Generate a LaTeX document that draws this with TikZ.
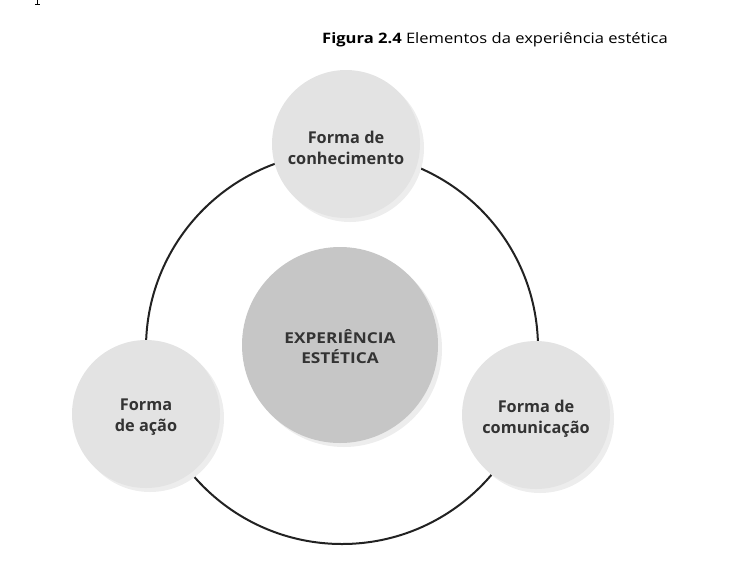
\documentclass[tikz,border=0pt]{standalone}
\usepackage{fontspec}
\setmainfont[FakeStretch=1.15]{Open Sans}
\newfontfamily\plainsans{Open Sans}
\begin{document}
\begin{tikzpicture}[x=1pt,y=-1pt,
  satellite/.style={circle,fill=sat,minimum size=148pt,inner sep=0pt},
  centre/.style={circle,fill=cen,minimum size=196pt,inner sep=0pt},
  sattext/.style={align=center,inner sep=0pt,font=\plainsans\fontsize{16.3}{21}\selectfont\bfseries,text=txt},
  midtextstyle/.style={align=center,inner sep=0pt,font=\fontsize{15}{20}\selectfont\bfseries,text=txt},
  shade/.style={circle,fill=shd,inner sep=0pt},
  ring/.style={draw=ringc,line width=2pt}]
\definecolor{sat}{HTML}{E3E3E3}
\definecolor{cen}{HTML}{C6C6C6}
\definecolor{shd}{HTML}{EDEDED}
\definecolor{txt}{HTML}{333333}
\definecolor{ringc}{HTML}{222222}
\useasboundingbox (0,0) rectangle (751,587);
% page remnant mark
\fill[black] (36.5,0) rectangle (38,4);
\fill[black] (35,3.5) rectangle (39.5,4.7);
% title
\node[anchor=base east,inner sep=0pt,font=\fontsize{14.4}{16}\selectfont,text=black] (title) at (668,43)
  {\textbf{Figura 2.4} Elementos da experiência estética};
% ring
\coordinate (ringc) at (342,348);
\draw[ring] (ringc) circle[radius=196];
% shadows
\node[shade,minimum size=148pt] at (350,148) {};
\node[shade,minimum size=148pt] at (150,418) {};
\node[shade,minimum size=148pt] at (540,419) {};
\node[shade,minimum size=196pt] at (344,349) {};
% circles
\node[satellite] (top) at (346,144) {};
\node[satellite] (left) at (146,414) {};
\node[satellite] (right) at (536,415) {};
\node[centre] (mid) at (340,345) {};
\node[sattext] (toptext) at (346,148) {Forma de\\conhecimento};
\node[sattext] (lefttext) at (146,417) {Forma\\de ação};
\node[sattext] (righttext) at (536,419) {Forma de\\comunicação};
\node[midtextstyle] (midtext) at (340,347) {EXPERIÊNCIA\\ESTÉTICA};
\end{tikzpicture}
\end{document}
